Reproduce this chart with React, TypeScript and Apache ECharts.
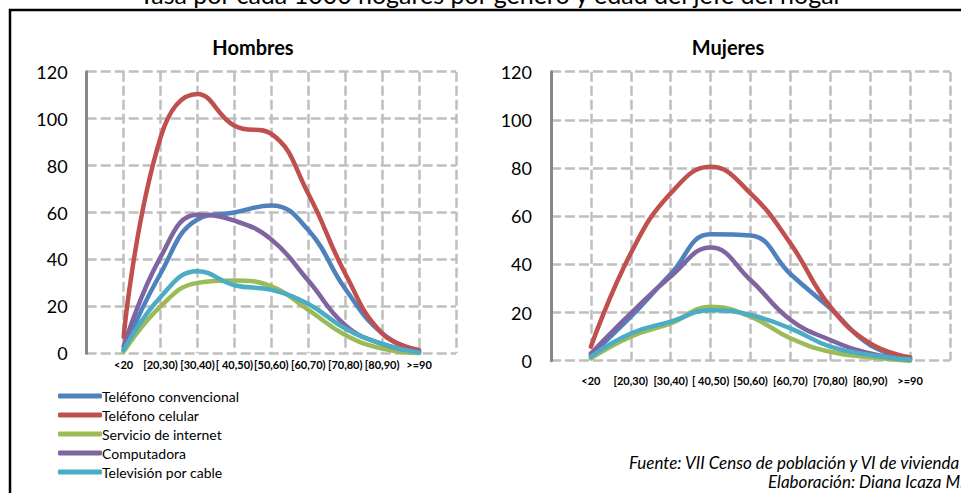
import React, { useEffect, useRef } from "react";
import * as echarts from "echarts";

const categories = ["<20", "[20,30)", "[30,40)", "[ 40,50)", "[50,60)", "[60,70)", "[70,80)", "[80,90)", ">=90"];
const seriesNames = ["Teléfono convencional", "Teléfono celular", "Servicio de internet", "Computadora", "Televisión por cable"];
const seriesColors = ["#4F81BD", "#C0504D", "#9BBB59", "#8064A2", "#4BACC6"];

// Hombres
const hConvencional = [1.5, 34, 57, 60, 63, 52.5, 27.5, 8.5, 0.7];
const hCelular = [7, 92, 110.5, 97, 93.5, 68, 34, 8.5, 1.4];
const hInternet = [0.7, 20, 30, 31, 28.5, 18.5, 7.8, 2, 0];
const hComputadora = [2.8, 41, 59, 56.5, 48.5, 31, 12, 4, 0.7];
const hCable = [1.4, 24, 35, 29, 27, 21, 10.6, 4, 0.3];

// Mujeres
const mConvencional = [2.4, 18.3, 36, 52.5, 52, 36, 21.7, 6.5, 1];
const mCelular = [5.8, 44.6, 69.5, 80.5, 69.5, 48.7, 22.4, 7.2, 1.4];
const mInternet = [1, 10, 15.5, 22.4, 18.3, 9.3, 3.7, 1.4, 0];
const mComputadora = [3, 19.7, 35, 47, 33.5, 17, 8.6, 3, 0.5];
const mCable = [1.7, 11.3, 16.2, 21, 19, 13.4, 5.8, 2.4, 0.5];

const yTicks = [0, 20, 40, 60, 80, 100, 120];

const titleText = "Tasa por cada 1000 hogares por género y edad del jefe del hogar";
const leftTitle = "Hombres";
const rightTitle = "Mujeres";
const sourceText = "Fuente: VII Censo de población y VI de vivienda";
const authorText = "Elaboración: Diana Icaza M.";

const FONT = "Lato, 'Open Sans', sans-serif";

export default function App() {
  const ref = useRef<HTMLDivElement>(null);
  useEffect(() => {
    if (!ref.current) return;
    const chart = echarts.init(ref.current, null, { renderer: "svg" });
    const hombres = [hConvencional, hCelular, hInternet, hComputadora, hCable];
    const mujeres = [mConvencional, mCelular, mInternet, mComputadora, mCable];

    const gridLine = { show: true, lineStyle: { color: "#BFBFBF", width: 2.5, type: [10, 4] as any } };

    const makeX = (idx: number, margin: number) => ({
      type: "value",
      gridIndex: idx,
      min: 0,
      max: categories.length + 1,
      interval: 1,
      axisLine: { show: false },
      axisTick: { show: false },
      splitLine: gridLine,
      axisLabel: {
        margin,
        fontSize: 11,
        fontWeight: "bold",
        color: "#000",
        fontFamily: FONT,
        showMinLabel: true,
        showMaxLabel: true,
        formatter: (v: number) => categories[v - 1] ?? "",
      },
    });
    const makeY = (idx: number) => ({
      type: "value",
      gridIndex: idx,
      min: yTicks[0],
      max: yTicks[yTicks.length - 1],
      interval: 20,
      axisLine: { show: true, lineStyle: { color: "#878787", width: 3 } },
      axisTick: { show: false },
      splitLine: gridLine,
      axisLabel: { margin: 19, fontSize: 18, color: "#000", fontFamily: FONT },
    });

    const mk = (arr: number[][], idx: number) =>
      arr.map((vals, i) => ({
        name: seriesNames[i],
        type: "line",
        xAxisIndex: idx,
        yAxisIndex: idx,
        smooth: 0.45,
        showSymbol: false,
        symbol: "none",
        lineStyle: { width: 4.5, color: seriesColors[i], cap: "round" },
        itemStyle: { color: seriesColors[i] },
        data: vals.map((v, j) => [j + 1, v]),
      }));

    chart.setOption({
      animation: false,
      backgroundColor: "#fff",
      textStyle: { fontFamily: FONT },
      grid: [
        { left: 86.7, top: 71.7, width: 369.3, height: 281.6 },
        { left: 551, top: 71.7, width: 399, height: 289 },
      ],
      xAxis: [makeX(0, 6), makeX(1, 14)],
      yAxis: [makeY(0), makeY(1)],
      legend: {
        orient: "vertical",
        left: 53,
        top: 384,
        itemWidth: 44,
        itemHeight: 5,
        itemGap: 5,
        icon: "roundRect",
        selectedMode: false,
        textStyle: { fontSize: 14, color: "#000", fontFamily: FONT, lineHeight: 14, padding: [0, 0, 0, -5] },
        data: seriesNames,
      },
      graphic: [
        {
          type: "rect",
          z: -10,
          shape: { x: 10, y: 10, width: 1000, height: 600 },
          style: { fill: "none", stroke: "#000", lineWidth: 2.5 },
        },
        {
          type: "text",
          x: 491,
          y: 6.5,
          style: { text: titleText, fill: "#000", font: `25px ${FONT}`, align: "center", verticalAlign: "bottom" },
        },
        {
          type: "text",
          x: 253,
          y: 47,
          style: { text: leftTitle, fill: "#000", font: `bold 20px ${FONT}`, align: "center", verticalAlign: "middle" },
        },
        {
          type: "text",
          x: 728,
          y: 47,
          style: { text: rightTitle, fill: "#000", font: `bold 20px ${FONT}`, align: "center", verticalAlign: "middle" },
        },
        {
          type: "text",
          x: 629,
          y: 462,
          style: { text: sourceText, fill: "#000", font: `italic 17px ${FONT}`, align: "left", verticalAlign: "middle" },
        },
        {
          type: "text",
          x: 768,
          y: 481,
          style: { text: authorText, fill: "#000", font: `italic 17px ${FONT}`, align: "left", verticalAlign: "middle" },
        },
      ],
      series: [...mk(hombres, 0), ...mk(mujeres, 1)],
    });
    return () => chart.dispose();
  }, []);
  return <div ref={ref} style={{ position: "absolute", left: 0, top: 0, width: 961, height: 493 }} />;
}
